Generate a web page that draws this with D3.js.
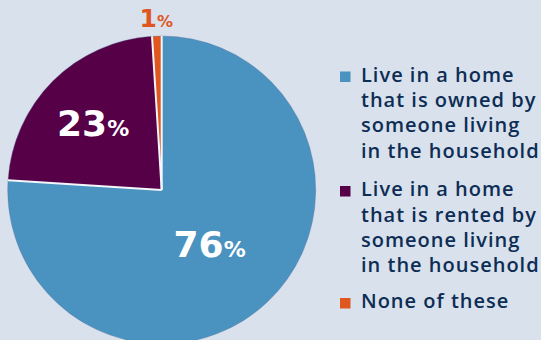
<!DOCTYPE html>
<html><head><meta charset="utf-8">
<script src="https://cdn.jsdelivr.net/npm/d3@7"></script>
<style>html,body{margin:0;padding:0;background:#d8e1ec;overflow:hidden}</style>
</head><body><svg id="c" width="541" height="340"></svg>
<script>
const categories = [
  ["Live in a home", "that is owned by", "someone living", "in the household"],
  ["Live in a home", "that is rented by", "someone living", "in the household"],
  ["None of these"]
];
const values = [76, 23, 1];
const colors = ["#4a93c0", "#560048", "#e0561f"];
const labelText = ["76", "23", "1"];

const svg = d3.select("#c");
const cx = 161.7, cy = 190, R = 154;
const g = svg.append("g").attr("transform", `translate(${cx},${cy})`);
const pie = d3.pie().sort(null).value(d => d)(values);
const arc = d3.arc().innerRadius(0).outerRadius(R);

g.selectAll("path.s").data(pie).enter().append("path")
  .attr("class", "s").attr("d", arc).attr("fill", (d, i) => colors[i]);
g.append("circle").attr("r", R).attr("fill", "none")
  .attr("stroke", "#5a6a9a").attr("stroke-opacity", 0.35).attr("stroke-width", 1);
g.selectAll("line.sep").data(pie).enter().append("line")
  .attr("x1", 0).attr("y1", 0)
  .attr("x2", d => R * Math.sin(d.startAngle))
  .attr("y2", d => -R * Math.cos(d.startAngle))
  .attr("stroke", "#f4f6fa").attr("stroke-width", 2);

const labelR = [70, 97, 172];
const labelFont = [36, 36, 25];
const labelDy = ["0.45em", "0.4em", "0.36em"];
const labelCol = ["#ffffff", "#ffffff", "#e0561f"];
pie.forEach((d, i) => {
  const a = (d.startAngle + d.endAngle) / 2;
  const x = labelR[i] * Math.sin(a), y = -labelR[i] * Math.cos(a);
  const t = g.append("text").attr("x", x).attr("y", y)
    .attr("text-anchor", "middle")
    .attr("fill", labelCol[i])
    .style("font-family", "'DejaVu Sans', sans-serif").style("font-weight", 700);
  t.append("tspan").attr("dy", labelDy[i]).text(labelText[i]).style("font-size", labelFont[i] + "px");
  t.append("tspan").text("%").style("font-size", Math.round(labelFont[i] * 0.62) + "px");
});

const legendY = [71.5, 186, 298];
const lg = svg.append("g");
categories.forEach((lines, i) => {
  lg.append("rect").attr("x", 340).attr("y", legendY[i]).attr("width", 10.5).attr("height", 10.5)
    .attr("fill", colors[i]);
  const t = lg.append("text").attr("fill", "#0d2d55")
    .style("font-family", "'Open Sans', sans-serif").style("font-weight", 600)
    .style("font-size", "20px").style("letter-spacing", "1px");
  lines.forEach((ln, j) => {
    t.append("tspan").attr("x", 361).attr("y", legendY[i] + 10.2 + j * 25.3).text(ln);
  });
});
</script></body></html>
